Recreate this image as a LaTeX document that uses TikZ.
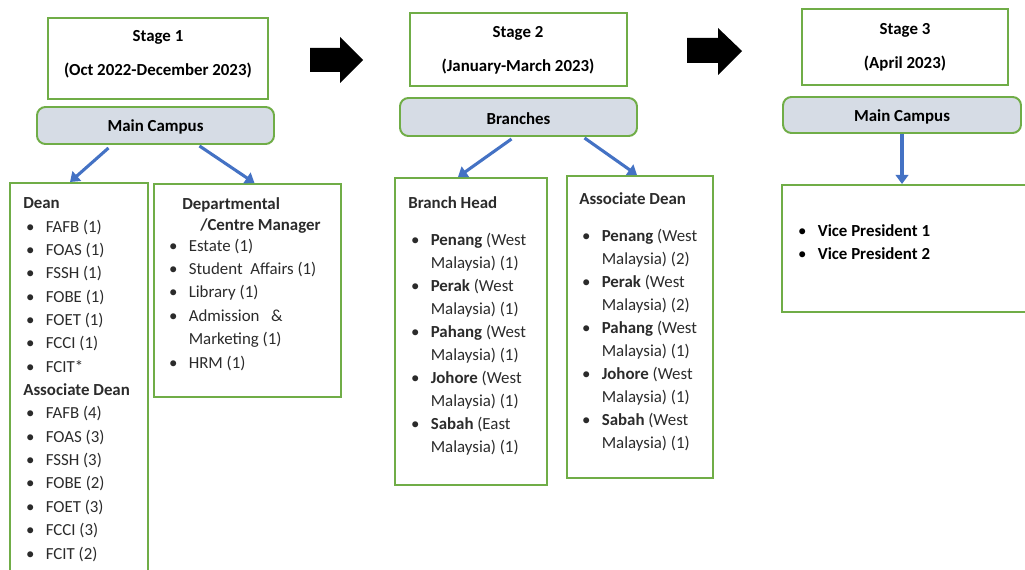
\documentclass[tikz,border=0pt]{standalone}
\usepackage{fontspec}
\setmainfont{Carlito}
\usetikzlibrary{arrows.meta,calc,fit}

\definecolor{boxgreen}{HTML}{70AD47}
\definecolor{hubgray}{HTML}{D6DCE5}
\definecolor{linkblue}{HTML}{4472C4}
\definecolor{itemgray}{HTML}{2B2B2B}

% bullet with hanging indent, and the indent of a wrapped line
\newcommand{\itm}{\makebox[16pt][l]{\hspace{2pt}\textbullet}}
\newcommand{\cont}{\hspace*{16pt}}

\begin{document}
\begin{tikzpicture}[x=0.025cm, y=-0.025cm,
  box/.style={draw=boxgreen, line width=1.4pt, inner sep=0pt},
  hub/.style={box, fill=hubgray, rounded corners=6pt},
  hubtext/.style={yshift=-1.2pt, font=\fontsize{12}{14}\selectfont\bfseries},
  head/.style={align=center, inner sep=0pt, font=\fontsize{12}{24.2}\selectfont\bfseries},
  list/.style={anchor=base west, align=left, inner sep=0pt, text=itemgray, font=\fontsize{12}{16.6}\selectfont},
  tightlist/.style={list, font=\fontsize{12}{16.35}\selectfont},
  link/.style={draw=linkblue, line width=2.2pt, -{Triangle[length=6.5pt,width=9pt]}}]
\useasboundingbox (0,0) rectangle (1025,570);

% stage 1 (list nodes sit on the baseline of their last line)
\node[box, fit={(48,18) (268,99)}] (stage1) {};
\node[head] (stage1txt) at (158,54) {Stage 1\\(Oct 2022-December 2023)};
\node[hub, fit={(37,107) (274,144)}, label={[hubtext]center:Main Campus}] (mc1) {};
\node[box, fit={(10,183) (148,640)}] (dean) {};
\node[box, fit={(154,184) (341,397)}] (dept) {};
\node[list] (deanlist) at (23,559) {\textbf{Dean}\\ \itm FAFB (1)\\ \itm FOAS (1)\\ \itm FSSH (1)\\ \itm FOBE (1)\\ \itm FOET (1)\\ \itm FCCI (1)\\ \itm FCIT*\\ \textbf{Associate Dean}\\ \itm FAFB (4)\\ \itm FOAS (3)\\ \itm FSSH (3)\\ \itm FOBE (2)\\ \itm FOET (3)\\ \itm FCCI (3)\\ \itm FCIT (2)};
\node[list] (deptlist) at (166,368) {\hspace*{11.4pt}\textbf{Departmental}\\[-1.6pt] \hspace*{24.2pt}\textbf{/Centre Manager}\\[-1.6pt] \itm Estate (1)\\ \itm Student~ Affairs (1)\\ \itm Library (1)\\ \itm Admission~~ \&\\ \cont Marketing (1)\\ \itm HRM (1)};
\draw[link] ($(mc1.south)+(-47,3)$) -- ($(dean.north)+(-9,0)$);
\draw[link] ($(mc1.south)+(44,1)$) -- ($(dept.north)+(7,0)$);

\fill (310,48) -- (340,48) -- (340,37) -- (363,60) -- (340,83) -- (340,72) -- (310,72) -- cycle;

% stage 2
\node[box, fit={(410,13) (627,86)}] (stage2) {};
\node[head] (stage2txt) at (518,50) {Stage 2\\(January-March 2023)};
\node[hub, fit={(400,98) (637,136)}, label={[hubtext]center:Branches}] (br) {};
\node[box, fit={(395,178) (547,485)}] (bhead) {};
\node[box, fit={(567,176) (713,478)}] (adean) {};
\node[tightlist] (bheadlist) at (408,452) {\textbf{Branch Head}\\[10pt] \itm \textbf{Penang} (West\\ \cont Malaysia) (1)\\ \itm \textbf{Perak} (West\\ \cont Malaysia) (1)\\ \itm \textbf{Pahang} (West\\ \cont Malaysia) (1)\\ \itm \textbf{Johore} (West\\ \cont Malaysia) (1)\\ \itm \textbf{Sabah} (East\\ \cont Malaysia) (1)};
\node[tightlist] (adeanlist) at (579,448) {\textbf{Associate Dean}\\[10pt] \itm \textbf{Penang} (West\\ \cont Malaysia) (2)\\ \itm \textbf{Perak} (West\\ \cont Malaysia) (2)\\ \itm \textbf{Pahang} (West\\ \cont Malaysia) (1)\\ \itm \textbf{Johore} (West\\ \cont Malaysia) (1)\\ \itm \textbf{Sabah} (West\\ \cont Malaysia) (1)};
\draw[link] ($(br.south)+(-7,2)$) -- ($(bhead.north)+(-13,0)$);
\draw[link] ($(br.south)+(66,1)$) -- ($(adean.north)+(-3,0)$);

\fill (687,38) -- (718,38) -- (718,28) -- (742,51) -- (718,75) -- (718,63) -- (687,63) -- cycle;

% stage 3
\node[box, fit={(802,9) (1008,85)}] (stage3) {};
\node[head] (stage3txt) at (905,47) {Stage 3\\(April 2023)};
\node[hub, fit={(783,97) (1021,133)}, label={[hubtext]center:Main Campus}] (mc3) {};
\node[box, fit={(782,185) (1045,312)}] (vp) {};
\node[list, text=black] (vplist) at (795,260) {\itm \textbf{Vice President 1}\\ \itm \textbf{Vice President 2}};
\draw[link] (mc3.south) -- (mc3.south |- vp.north);
\end{tikzpicture}
\end{document}
